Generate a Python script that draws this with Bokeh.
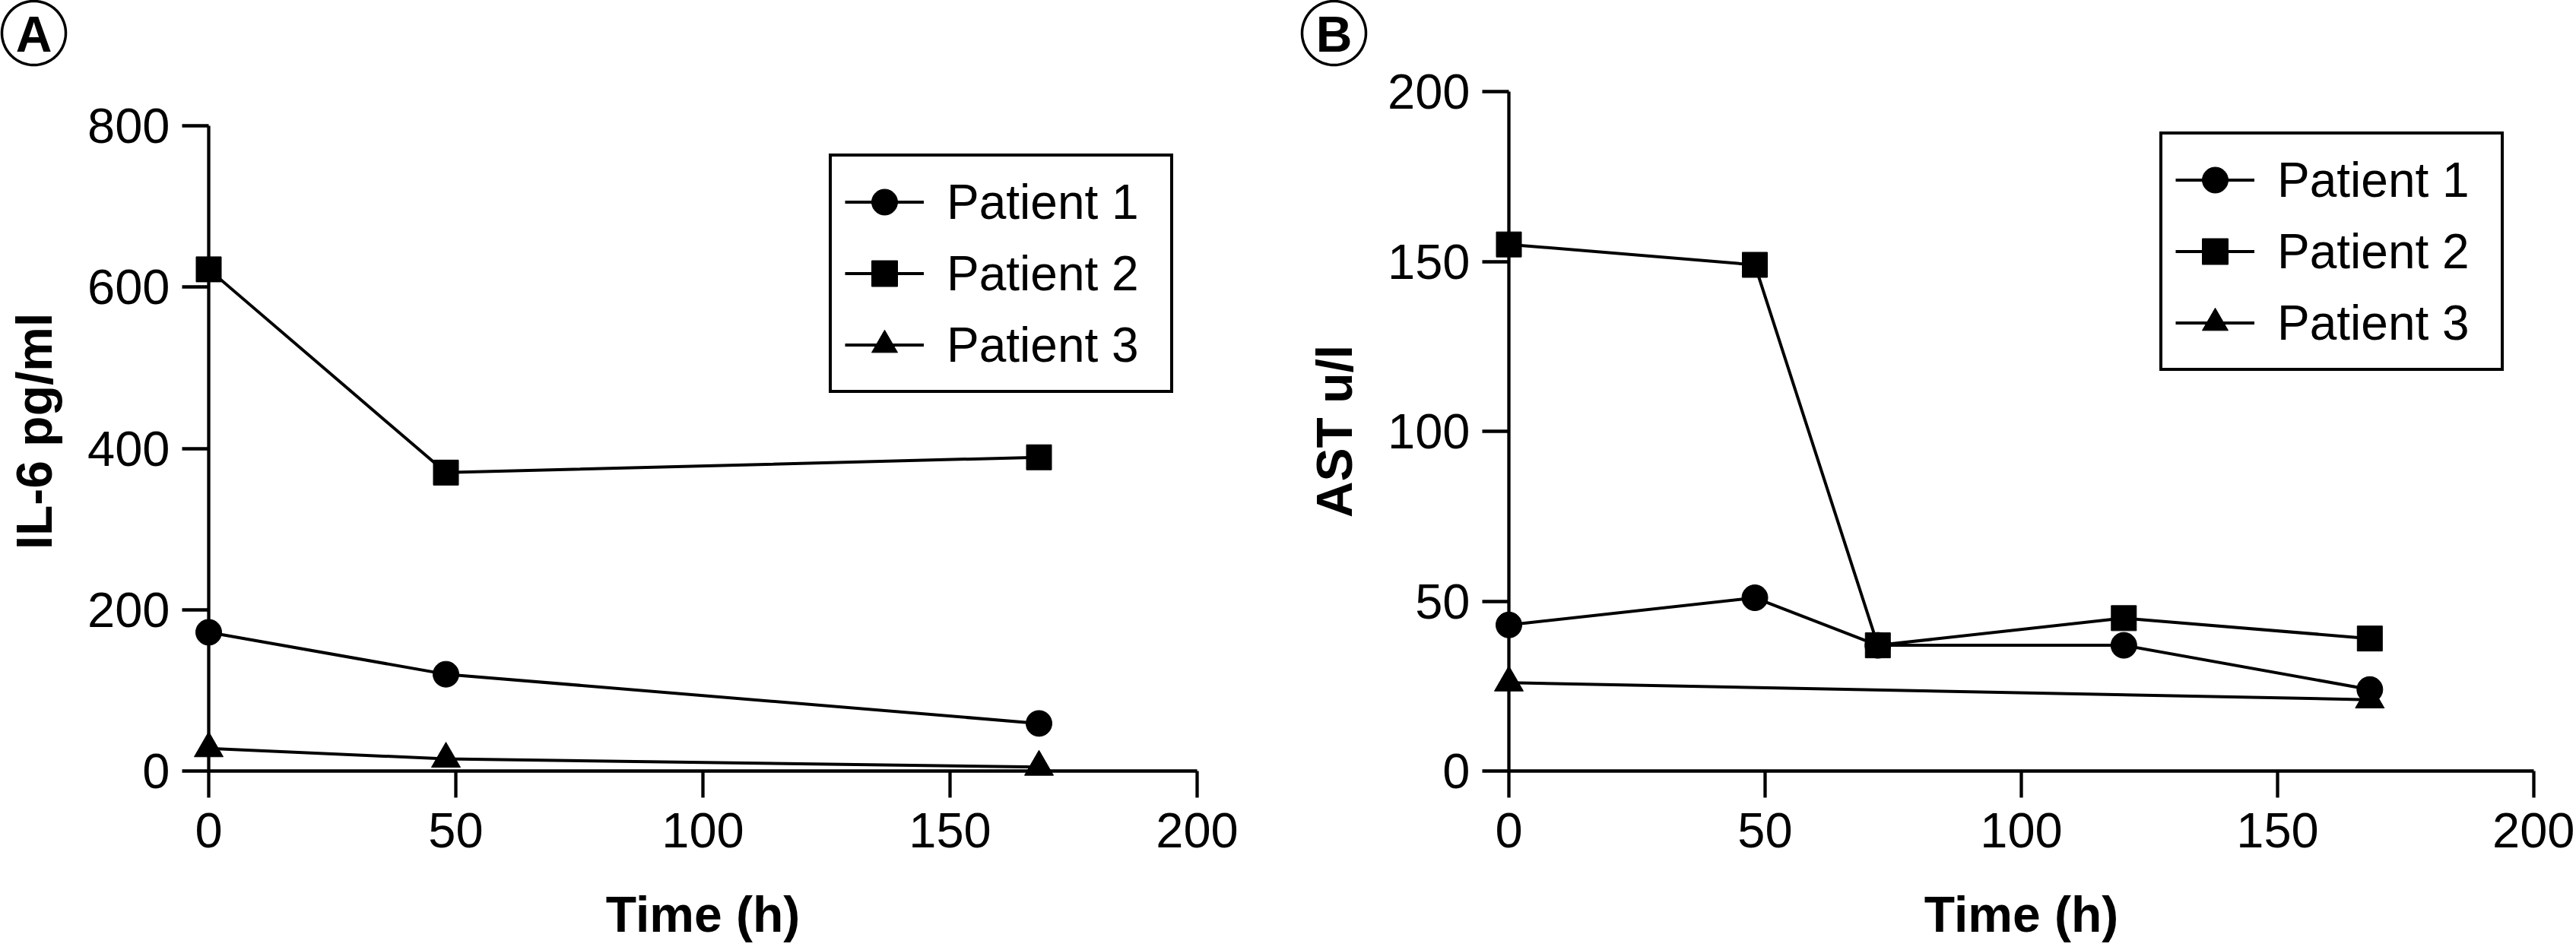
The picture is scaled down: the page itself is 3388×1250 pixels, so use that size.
import numpy as np
from bokeh.plotting import figure
from bokeh.layouts import row
from bokeh.models import Range1d, FixedTicker, Legend, LegendItem
from bokeh.core.properties import value
from bokeh.embed import file_html
from bokeh.resources import INLINE

# ---------------- data ----------------
# Panel A: IL-6 (pg/ml) vs time (h)
time_a = [0, 48, 168]
il6_p1 = [172, 120, 59]
il6_p2 = [622, 370, 389]
il6_p3 = [28, 15, 5]

# Panel B: AST (u/l) vs time (h)
time_b = [0, 48, 72, 120, 168]
ast_p1 = [43, 51, 37, 37, 24]
ast_p2 = [155, 149, 37, 45, 39]
time_b3 = [0, 168]
ast_p3 = [26, 21]

patients = ["Patient 1", "Patient 2", "Patient 3"]
x_ticks = [0, 50, 100, 150, 200]
y_ticks_a = [0, 200, 400, 600, 800]
y_ticks_b = [0, 50, 100, 150, 200]

FONT = "Liberation Sans"
MARKERS = ["circle", "square", "triangle"]
SIZES = [34, 33, 38]
RING_RADIUS_PX = 42

FIG_H = 1250
BORDER_TOP = 120
BORDER_BOTTOM = 236
FRAME_H = FIG_H - BORDER_TOP - BORDER_BOTTOM   # 894 px, shared by both panels


def make_panel(width, borders_lr, x_end, y_axis_end, axis_px, y_ticks, ylabel,
               series, legend_loc, letter, tag_offset):
    # the y axis of a panel spans axis_px pixels; the frame may be taller
    y_end = y_axis_end * FRAME_H / axis_px
    p = figure(width=width, height=FIG_H, output_backend="svg",
               toolbar_location=None,
               x_range=Range1d(0, x_end), y_range=Range1d(0, y_end),
               min_border_left=borders_lr[0], min_border_right=borders_lr[1],
               min_border_top=BORDER_TOP, min_border_bottom=BORDER_BOTTOM,
               outline_line_color=None, background_fill_color="white",
               border_fill_color="white")
    p.grid.visible = False
    for ax in p.axis:
        ax.axis_line_width = 4.3
        ax.axis_line_color = "black"
        ax.major_tick_line_width = 4.3
        ax.major_tick_line_color = "black"
        ax.major_tick_out = 35
        ax.major_tick_in = 0
        ax.minor_tick_line_color = None
        ax.major_label_text_font = FONT
        ax.major_label_text_font_size = "65px"
        ax.major_label_text_color = "black"
        ax.axis_label_text_font = FONT
        ax.axis_label_text_font_size = "66px"
        ax.axis_label_text_font_style = "bold"
        ax.axis_label_text_color = "black"
    p.xaxis.ticker = FixedTicker(ticks=x_ticks)
    p.yaxis.ticker = FixedTicker(ticks=y_ticks)
    p.yaxis.bounds = (0, y_axis_end)
    p.xaxis.major_label_standoff = 20
    p.yaxis.major_label_standoff = 16
    p.xaxis.axis_label_standoff = 48
    p.yaxis.axis_label_standoff = 30
    p.xaxis.axis_label = "Time (h)"
    p.yaxis.axis_label = ylabel

    items = []
    for name, marker, size, (xs, ys) in zip(patients, MARKERS, SIZES, series):
        ln = p.line(xs, ys, line_color="black", line_width=4)
        sc = p.scatter(xs, ys, marker=marker, size=size,
                       fill_color="black", line_color="black", line_width=1)
        sc.level = "overlay"
        items.append(LegendItem(label=name, renderers=[ln, sc]))

    legend = Legend(items=items, location=legend_loc,
                    glyph_width=104, glyph_height=85, label_standoff=30,
                    label_width=277, padding=17, spacing=9, margin=0,
                    border_line_color="black", border_line_width=4,
                    border_line_alpha=1.0,
                    background_fill_color="white", background_fill_alpha=1,
                    label_text_font=FONT, label_text_font_size="64px",
                    label_text_color="black")
    p.add_layout(legend)

    # panel letter in a circle: offset in pixels from the frame's
    # bottom-left corner, converted to data units of this panel
    frame_w = width - borders_lr[0] - borders_lr[1]
    ux = x_end / frame_w
    uy = y_end / FRAME_H
    tx = tag_offset[0] * ux
    ty = tag_offset[1] * uy
    theta = np.linspace(0, 2 * np.pi, 97)
    ring = p.line(x=tx + RING_RADIUS_PX * ux * np.cos(theta),
                  y=ty + RING_RADIUS_PX * uy * np.sin(theta),
                  line_color="black", line_width=3.5)
    ring.level = "overlay"
    txt = p.text(x=[tx], y=[ty - 1.5 * uy], text=[letter],
                 text_font=value(FONT), text_font_style="bold",
                 text_font_size=value("66px"),
                 text_align="center", text_baseline="middle",
                 text_color="black")
    txt.level = "overlay"
    return p


pA = make_panel(1708, (274, 134), 200, 800, 849, y_ticks_a,
                "IL-6 pg/ml",
                [(time_a, il6_p1), (time_a, il6_p2), (time_a, il6_p3)],
                (816, 497), "A", (-230, 971))
pB = make_panel(1678, (276, 54), 200, 200, 894, y_ticks_b,
                "AST u/l",
                [(time_b, ast_p1), (time_b, ast_p2), (time_b3, ast_p3)],
                (856, 526), "B", (-230, 971))

layout = row(pA, pB, spacing=0)
open("out.html", "w").write(file_html(layout, INLINE))
